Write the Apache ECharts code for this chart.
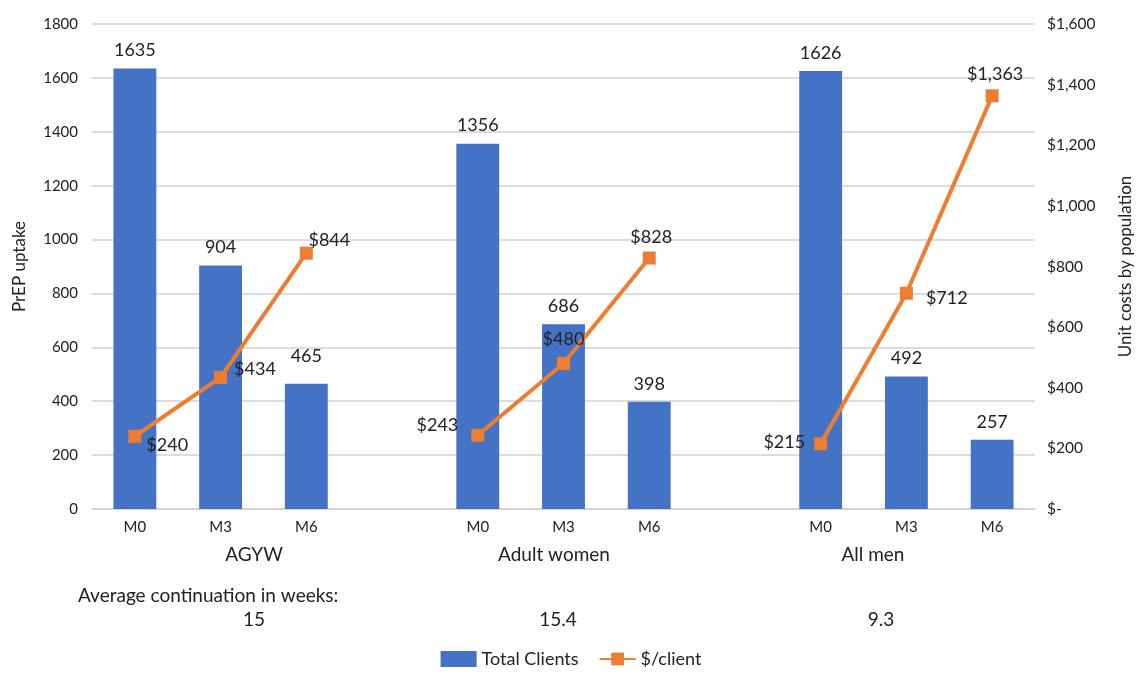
<!DOCTYPE html>
<html><head><meta charset="utf-8">
<script src="https://cdn.jsdelivr.net/npm/echarts@6/dist/echarts.min.js"></script>
<style>html,body{margin:0;padding:0;background:#fff;overflow:hidden}#c{width:1142px;height:674px}</style>
</head><body><div id="c"></div>
<script>
const categories = ['M0','M3','M6','','M0','M3','M6','','M0','M3','M6'];
const totalClients = [1635, 904, 465, null, 1356, 686, 398, null, 1626, 492, 257];
const costPerClient = [240, 434, 844, null, 243, 480, 828, null, 215, 712, 1363];
const groupNames = ['AGYW', 'Adult women', 'All men'];
const continuationWeeks = ['15', '15.4', '9.3'];
const leftTicks = {min: 0, max: 1800, interval: 200};
const rightTicks = {min: 0, max: 1600, interval: 200};

// label styling per point (presentation only)
const lineLabelStyle = [
  {position:'right', offset:[0,9]},
  {position:'right', offset:[2,-8]},
  {position:'top', offset:[23,8]},
  null,
  {position:'left', offset:[-8,-10]},
  {position:'top', offset:[0,-4]},
  {position:'top', offset:[2,0]},
  null,
  {position:'left', offset:[-4,-2]},
  {position:'right', offset:[8,5]},
  {position:'top', offset:[3,-1]}
];
const barLabelOffset = [0,0,-10,0,0,0,0,0,0,0,0];

const FONT = 'Lato, "Open Sans", sans-serif';
const fmtMoney = v => '$' + v.toLocaleString('en-US');

const chart = echarts.init(document.getElementById('c'));
const groupX = [254, 554, 873];
const graphics = [];
groupNames.forEach((g,i)=>graphics.push({type:'text', x: groupX[i], y: 555, style:{text:g, fill:'#222', font: '19px ' + FONT, textAlign:'center', textVerticalAlign:'middle'}}));
const contX = [254, 558, 881];
graphics.push({type:'text', x: 78, y: 596, style:{text:'Average continuation in weeks:', fill:'#222', font:'19px ' + FONT, textAlign:'left', textVerticalAlign:'middle'}});
continuationWeeks.forEach((w,i)=>graphics.push({type:'text', x: contX[i], y: 620, style:{text:w, fill:'#222', font:'19px ' + FONT, textAlign:'center', textVerticalAlign:'middle'}}));

chart.setOption({
  animation:false,
  textStyle:{fontFamily: FONT},
  grid:{left:92, right:89, top:24, bottom:165},
  legend:{bottom:1, left:'center', itemGap:20, textStyle:{fontSize:18, color:'#222', fontFamily:FONT},
    data:[{name:'Total Clients', icon:'rect'}, {name:'$/client'}], itemWidth:36, itemHeight:16},
  xAxis:{type:'category', data:categories, axisTick:{show:false},
    axisLine:{lineStyle:{color:'#d0d0d0', width:1.5}},
    axisLabel:{fontSize:15, color:'#222', margin:11, interval:0}},
  yAxis:[
    {type:'value', min:leftTicks.min, max:leftTicks.max, interval:leftTicks.interval,
     name:'PrEP uptake', nameLocation:'middle', nameGap:64, nameRotate:90,
     nameTextStyle:{fontSize:17, color:'#222'},
     axisLabel:{fontSize:15, color:'#222', margin:14, formatter: v => String(v)},
     splitLine:{lineStyle:{color:'#d0d0d0', width:1.5}}, axisLine:{show:false}, axisTick:{show:false}},
    {type:'value', min:rightTicks.min, max:rightTicks.max, interval:rightTicks.interval,
     name:'Unit costs by population', nameLocation:'middle', nameGap:82, nameRotate:90,
     nameTextStyle:{fontSize:17, color:'#222'},
     axisLabel:{fontSize:15.5, color:'#222', margin:12, formatter: v => v === 0 ? '$-' : fmtMoney(v)},
     splitLine:{show:false}, axisLine:{show:false}, axisTick:{show:false}}
  ],
  series:[
    {name:'Total Clients', type:'bar', barWidth:'50%', yAxisIndex:0,
     itemStyle:{color:'#4472C4'},
     data: totalClients.map((v,i)=>({value:v, label:{offset:[0, barLabelOffset[i]]}})),
     label:{show:true, position:'top', fontSize:18, color:'#222', distance:9}},
    {name:'$/client', type:'line', yAxisIndex:1, connectNulls:false,
     lineStyle:{color:'#ED7D31', width:4}, itemStyle:{color:'#ED7D31'},
     symbol:'rect', symbolSize:13,
     data: costPerClient.map((v,i)=>({value:v, label: lineLabelStyle[i] || {}})),
     label:{show:true, fontSize:18, color:'#222', formatter: p => fmtMoney(p.value)}, z:5}
  ],
  graphic: graphics
});
</script></body></html>
